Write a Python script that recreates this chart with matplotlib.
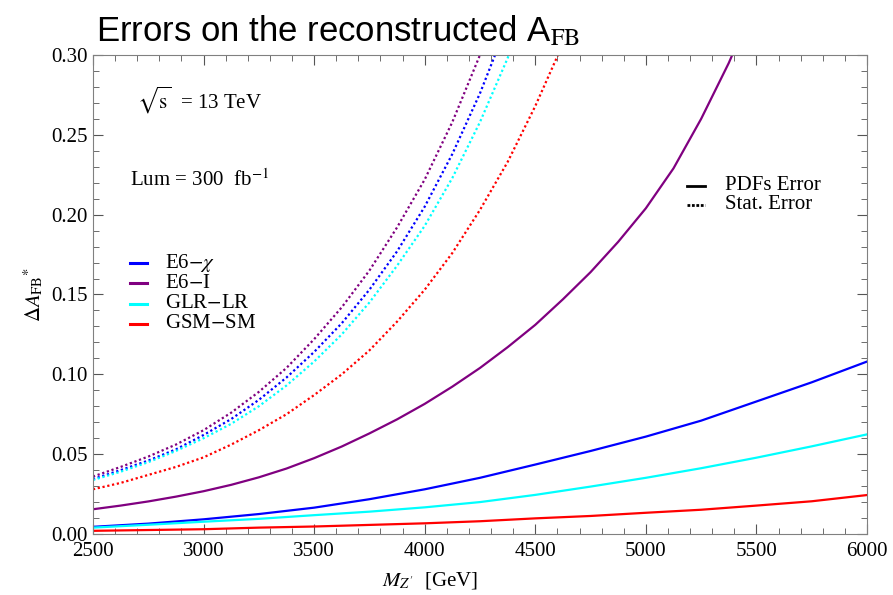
import matplotlib.pyplot as plt
from matplotlib.ticker import MultipleLocator

plt.rcParams["mathtext.fontset"] = "stix"

# Data
models = ["E6$-\\chi$", "E6$-$I", "GLR$-$LR", "GSM$-$SM"]
colors = ["#0000ff", "#800080", "#00ffff", "#ff0000"]
styles = ["PDFs Error", "Stat. Error"]

mass = [2500, 2750, 3000, 3250, 3500, 3750, 4000, 4250, 4500, 4750, 5000, 5250, 5500, 5750, 6000]

# PDFs error (solid)
pdf_e6chi = [0.0045, 0.0065, 0.0092, 0.0125, 0.0165, 0.0218, 0.028, 0.0352, 0.0435, 0.052, 0.061, 0.071, 0.083, 0.095, 0.108]
pdf_glr = [0.004, 0.0058, 0.0077, 0.0095, 0.0118, 0.014, 0.0167, 0.020, 0.0245, 0.0297, 0.0352, 0.0412, 0.0478, 0.0549, 0.0624]
pdf_gsm = [0.002, 0.0025, 0.003, 0.004, 0.0047, 0.0057, 0.0067, 0.008, 0.0098, 0.0113, 0.0133, 0.0152, 0.0178, 0.0205, 0.0244]

mass_fine = [2500, 2625, 2750, 2875, 3000, 3125, 3250, 3375, 3500, 3625, 3750, 3875,
             4000, 4125, 4250, 4375, 4500, 4625, 4750, 4875, 5000, 5125, 5250, 5375, 5500]
pdf_e6i = [0.0155, 0.0178, 0.0204, 0.0234, 0.0268, 0.0308, 0.0355, 0.041, 0.0475, 0.0548, 0.063, 0.0718,
           0.0815, 0.0923, 0.104, 0.117, 0.131, 0.147, 0.164, 0.183, 0.204, 0.229, 0.260, 0.295, 0.335]

# Stat. error (dotted)
stat_e6i = [0.036, 0.042, 0.0485, 0.056, 0.065, 0.076, 0.089, 0.104, 0.122, 0.142, 0.165, 0.192,
            0.222, 0.258, 0.30, 0.35]
stat_e6chi = [0.0344, 0.040, 0.046, 0.053, 0.062, 0.072, 0.084, 0.098, 0.114, 0.132, 0.153, 0.177,
              0.205, 0.238, 0.276, 0.32]
stat_glr = [0.0338, 0.039, 0.045, 0.052, 0.060, 0.069, 0.080, 0.093, 0.108, 0.125, 0.145, 0.168,
            0.193, 0.223, 0.258, 0.298, 0.345]
stat_gsm = [0.028, 0.032, 0.037, 0.042, 0.048, 0.056, 0.065, 0.075, 0.087, 0.100, 0.115, 0.133,
            0.153, 0.176, 0.203, 0.233, 0.268, 0.307, 0.35]

fig = plt.figure(figsize=(8.93, 5.95), dpi=100)
ax = fig.add_axes([0.1041, 0.1025, 0.8668, 0.8051])

serif = "Liberation Serif"
dot = (0, (1, 1.2))

ax.plot(mass, pdf_e6chi, color=colors[0], lw=1.6)
ax.plot(mass_fine, pdf_e6i, color=colors[1], lw=1.6)
ax.plot(mass, pdf_glr, color=colors[2], lw=1.6)
ax.plot(mass, pdf_gsm, color=colors[3], lw=1.6)

ax.plot(mass_fine[:len(stat_e6i)], stat_e6i, color=colors[1], lw=1.6, ls=dot)
ax.plot(mass_fine[:len(stat_e6chi)], stat_e6chi, color=colors[0], lw=1.6, ls=dot)
ax.plot(mass_fine[:len(stat_glr)], stat_glr, color=colors[2], lw=1.6, ls=dot)
ax.plot(mass_fine[:len(stat_gsm)], stat_gsm, color=colors[3], lw=1.6, ls=dot)

ax.set_xlim(2500, 6000)
ax.set_ylim(0, 0.30)
ax.xaxis.set_major_locator(MultipleLocator(500))
ax.xaxis.set_minor_locator(MultipleLocator(100))
ax.yaxis.set_major_locator(MultipleLocator(0.05))
ax.yaxis.set_minor_locator(MultipleLocator(0.01))
ax.yaxis.set_major_formatter(plt.FuncFormatter(lambda v, p: f"{v:.2f}"))
ax.tick_params(which="both", direction="in", top=True, right=True, color="#555555")
ax.tick_params(which="major", length=7, labelsize=15)
ax.tick_params(which="minor", length=4)
ax.tick_params(axis="x", which="major", pad=6)
for lab in ax.get_xticklabels() + ax.get_yticklabels():
    lab.set_fontfamily(serif)
for sp in ax.spines.values():
    sp.set_color("#808080")

ax.set_xlabel("$M_{Z'}$  [GeV]", fontsize=15, fontfamily=serif, labelpad=6)
ax.xaxis.set_label_coords(0.435, -0.075)
ax.set_ylabel("$\\Delta A_{\\rm FB}{}^{*}$", fontsize=15, fontfamily=serif, labelpad=4)

fig.text(0.107, 0.93, "Errors on the reconstructed A$_{\\rm FB}$", fontsize=25,
         fontfamily="Liberation Sans", va="baseline")

ax.text(0.0568, 0.906, "$\\sqrt{\\rm s}$  = 13 TeV", transform=ax.transAxes, fontsize=15,
        fontfamily=serif, va="center")
ax.text(0.0478, 0.739, "Lum = 300  fb$^{-1}$", transform=ax.transAxes, fontsize=15,
        fontfamily=serif, va="center")

# model key (colours)
for i, (name, c) in enumerate(zip(models, colors)):
    yy = 0.566 - i * 0.0425
    ax.plot([0.0478, 0.0698], [yy, yy], color=c, lw=2.2, transform=ax.transAxes)
    ax.text(0.093, yy, name, transform=ax.transAxes, fontsize=15, fontfamily=serif, va="center")

# line style key
for i, (name, ls) in enumerate(zip(styles, ["-", (0, (1, 0.6))])):
    yy = 0.7265 - i * 0.0395
    ax.plot([0.767, 0.791], [yy, yy], color="black", lw=2, ls=ls, transform=ax.transAxes)
    ax.text(0.8165, yy, name, transform=ax.transAxes, fontsize=15, fontfamily=serif, va="center")

fig.savefig("out.png", dpi=100)
